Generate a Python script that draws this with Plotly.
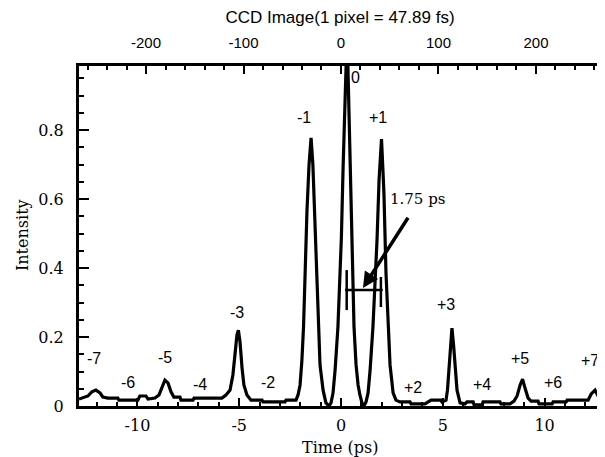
import plotly.graph_objects as go

# ---- data ----
time_ps = [-12.87, -12.63, -12.43, -12.24, -12.04, -11.84, -11.70, -11.45, -10.96, -10.91,
           -9.98, -9.88, -9.58, -9.48, -9.14, -8.94, -8.80, -8.65, -8.50, -8.35,
           -8.21, -7.91, -7.86, -7.27, -7.22, -5.85, -5.65, -5.45, -5.31, -5.21,
           -5.11, -5.04, -4.96, -4.86, -4.77, -4.62, -4.42, -3.88, -3.83, -2.75,
           -2.70, -2.21,
           -2.11, -2.01, -1.92, -1.84, -1.77, -1.67, -1.57, -1.47, -1.38, -1.28,
           -1.20, -1.13, -1.03, -0.88, -0.74, -0.59, -0.49,
           -0.39, -0.29, -0.15, -0.05, 0.02, 0.10, 0.17, 0.25, 0.34, 0.42,
           0.49, 0.54, 0.64, 0.74, 0.84, 0.93, 1.03, 1.13, 1.23,
           1.33, 1.43, 1.57, 1.67, 1.77, 1.87, 1.99, 2.06, 2.11, 2.21,
           2.31, 2.41, 2.56, 2.70, 2.90, 3.39, 3.44, 4.13, 4.42, 4.91,
           4.96, 5.16,
           5.23, 5.31, 5.38, 5.45, 5.53, 5.60, 5.70, 5.85, 6.09, 6.19,
           6.49, 6.54, 6.93, 6.98, 7.81, 7.86, 8.30, 8.50,
           8.65, 8.80, 8.92, 9.04, 9.19, 9.34, 9.68, 9.73, 10.37, 10.42,
           11.06, 11.11, 12.14, 12.29, 12.48, 12.63, 12.78, 12.92]
intensity = [0.020, 0.026, 0.029, 0.041, 0.046, 0.038, 0.026, 0.023, 0.023, 0.017,
             0.017, 0.029, 0.029, 0.020, 0.023, 0.032, 0.052, 0.075, 0.067, 0.041,
             0.026, 0.026, 0.017, 0.017, 0.023, 0.023, 0.032, 0.046, 0.090, 0.148,
             0.206, 0.220, 0.186, 0.110, 0.061, 0.032, 0.017, 0.017, 0.012, 0.012,
             0.017, 0.017,
             0.032, 0.061, 0.133, 0.229, 0.386, 0.568, 0.699, 0.777, 0.699, 0.525,
             0.386, 0.229, 0.119, 0.046, 0.009, 0.000, 0.009,
             0.038, 0.104, 0.229, 0.365, 0.490, 0.684, 0.858, 0.985, 0.985, 0.800,
             0.597, 0.490, 0.229, 0.119, 0.061, 0.032, 0.009, 0.000, 0.012,
             0.038, 0.104, 0.229, 0.336, 0.481, 0.655, 0.774, 0.684, 0.617, 0.386,
             0.229, 0.119, 0.038, 0.017, 0.012, 0.012, 0.006, 0.006, 0.017, 0.017,
             0.012, 0.017,
             0.046, 0.110, 0.177, 0.226, 0.177, 0.113, 0.046, 0.009, 0.006, 0.012,
             0.012, 0.003, 0.003, 0.012, 0.012, 0.006, 0.006, 0.014,
             0.029, 0.061, 0.078, 0.052, 0.023, 0.014, 0.014, 0.006, 0.006, 0.012,
             0.012, 0.017, 0.017, 0.035, 0.046, 0.029, 0.012, 0.006]

order_labels = ["-7", "-6", "-5", "-4", "-3", "-2", "-1", "0",
                "+1", "+2", "+3", "+4", "+5", "+6", "+7"]
bottom_ticks = [-10, -5, 0, 5, 10]
bottom_ticktext = ["-10", "-5", "0", "5", "10"]
left_ticks = [0, 0.2, 0.4, 0.6, 0.8]
left_ticktext = ["0", "0.2", "0.4", "0.6", "0.8"]
top_ticks = [-200, -100, 0, 100, 200]
top_ticktext = ["-200", "-100", "0", "100", "200"]
fs_per_pixel = 47.89

# ---- layout positions (label placement) ----
label_pos = [(-12.14, 0.139), (-10.47, 0.067), (-8.65, 0.142), (-6.93, 0.061),
             (-5.11, 0.272), (-3.59, 0.067), (-1.82, 0.835), (0.69, 0.951),
             (1.82, 0.835), (3.54, 0.055), (5.16, 0.293), (6.93, 0.061),
             (8.80, 0.139), (10.42, 0.067), (12.24, 0.133)]

xr = [-12.87, 12.92]
yr = [0, 0.9855]
ps_per_pixel = fs_per_pixel / 1000.0
xr2 = [xr[0] / ps_per_pixel, xr[1] / ps_per_pixel]

# page body adds an 8px offset; figure is sized so the plot lands where intended
W, H = 597, 449
ML, MR, MT, MB = 71, 1, 58, 51
PW, PH = W - ML - MR, H - MT - MB

fig = go.Figure()
fig.add_trace(go.Scatter(x=time_ps, y=intensity, mode="lines",
                         line=dict(color="black", width=3.2), showlegend=False,
                         hoverinfo="skip"))
# invisible trace to activate the top axis
fig.add_trace(go.Scatter(x=[0], y=[0], xaxis="x2", mode="markers",
                         marker=dict(opacity=0), showlegend=False, hoverinfo="skip"))

serif = "DejaVu Serif"
sans = "Liberation Sans"

annotations = []
for txt, (tx, ty) in zip(order_labels, label_pos):
    annotations.append(dict(x=tx, y=ty, xref="x", yref="y", text=txt, showarrow=False,
                            font=dict(family=sans, size=16, color="black")))
annotations.append(dict(x=3.78, y=0.60, xref="x", yref="y", text="1.75 ps", showarrow=False,
                        font=dict(family=serif, size=15, color="black")))
annotations.append(dict(x=1.08, y=0.342, xref="x", yref="y", ax=3.34, ay=0.55,
                        axref="x", ayref="y", text="", showarrow=True,
                        arrowhead=2, arrowsize=0.9, arrowwidth=3.5, arrowcolor="black"))
annotations.append(dict(x=0, y=1.0, xref="paper", yref="y", text="1", showarrow=False,
                        xanchor="right", xshift=-15, yshift=3,
                        font=dict(family=serif, size=16, color="black")))
# axis titles (pixel targets in the 605x457 view, relative to plot area)
annotations.append(dict(x=(340 - 79) / PW, y=(406 - 447) / PH, xref="paper", yref="paper",
                        text="Time (ps)", showarrow=False, xanchor="center", yanchor="middle",
                        font=dict(family=serif, size=16, color="black")))
annotations.append(dict(x=(22 - 79) / PW, y=(406 - 235) / PH, xref="paper", yref="paper",
                        text="Intensity", showarrow=False, textangle=-90,
                        xanchor="center", yanchor="middle",
                        font=dict(family=serif, size=16, color="black")))

shapes = [
    dict(type="line", xref="x", yref="y", x0=0.2, x1=2.05, y0=0.336, y1=0.336,
         line=dict(color="black", width=2.5)),
    dict(type="line", xref="x", yref="y", x0=0.28, x1=0.28, y0=0.278, y1=0.394,
         line=dict(color="black", width=2.5)),
    dict(type="line", xref="x", yref="y", x0=1.96, x1=1.96, y0=0.287, y1=0.374,
         line=dict(color="black", width=2.5)),
]

fig.update_layout(
    width=W, height=H,
    margin=dict(l=ML, r=MR, t=MT, b=MB, autoexpand=False),
    paper_bgcolor="white", plot_bgcolor="white",
    title=dict(text="CCD Image(1 pixel = 47.89 fs)", x=(340 - 8) / W,
               xanchor="center", y=1 - 9 / H, yanchor="middle", automargin=False,
               font=dict(family=sans, size=17, color="black")),
    xaxis=dict(range=xr, tickvals=bottom_ticks, ticktext=bottom_ticktext,
               ticks="inside", ticklen=8, tickwidth=2, tickcolor="black",
               minor=dict(dtick=1, tick0=0, ticks="inside", ticklen=4, tickwidth=1.5,
                          tickcolor="black"),
               showline=True, linewidth=3, linecolor="black", showgrid=False,
               zeroline=False, ticklabelstandoff=3, automargin=False,
               tickfont=dict(family=serif, size=16, color="black")),
    xaxis2=dict(range=xr2, overlaying="x", side="top", tickvals=top_ticks,
                ticktext=top_ticktext, ticks="inside", ticklen=8, tickwidth=2,
                tickcolor="black",
                minor=dict(dtick=20, tick0=0, ticks="inside", ticklen=4, tickwidth=2,
                           tickcolor="black"),
                showline=True, linewidth=3, linecolor="black", showgrid=False,
                zeroline=False, ticklabelstandoff=9, automargin=False,
                tickfont=dict(family=sans, size=15, color="black")),
    yaxis=dict(range=yr, tickvals=left_ticks, ticktext=left_ticktext,
               ticks="inside", ticklen=10, tickwidth=2, tickcolor="black",
               minor=dict(dtick=0.05, tick0=0, ticks="inside", ticklen=5, tickwidth=2,
                          tickcolor="black"),
               showline=True, linewidth=3, linecolor="black", showgrid=False,
               zeroline=False, ticklabelstandoff=9, automargin=False,
               tickfont=dict(family=serif, size=16, color="black")),
    annotations=annotations,
    shapes=shapes,
)

fig.write_html("out.html")
